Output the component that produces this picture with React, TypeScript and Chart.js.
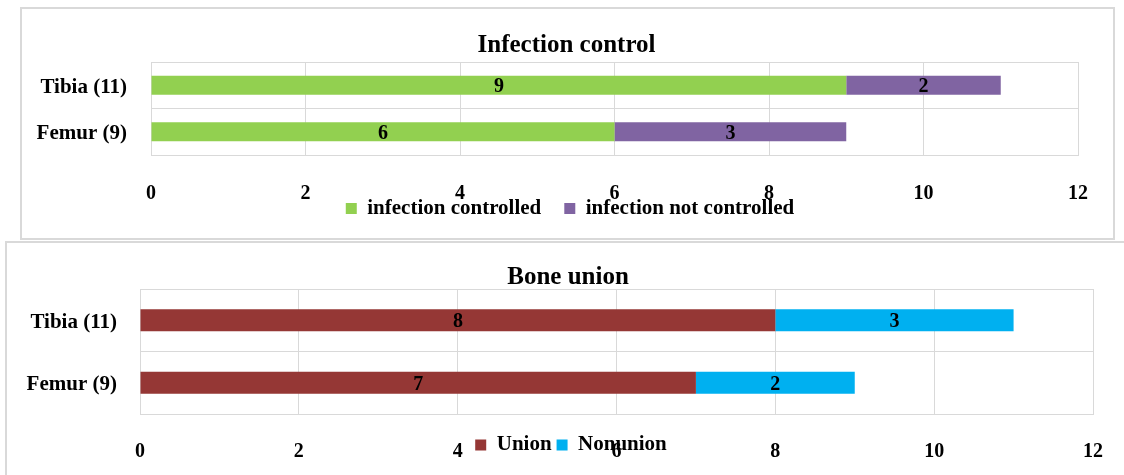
import React, { useEffect, useRef } from "react";
import { Chart, registerables } from "chart.js";

Chart.register(...registerables);

// ---- data ----
const categories = ["Tibia (11)", "Femur (9)"];
const infectionControlled = [9, 6];
const infectionNotControlled = [2, 3];
const unionValues = [8, 7];
const nonunionValues = [3, 2];
const xMin = 0;
const xMax = 12;
const xStep = 2;

const FONT = "'Liberation Serif', 'Times New Roman', serif";
const GRID = "#d9d9d9";

const valueLabels = {
  id: "valueLabels",
  afterDatasetsDraw(chart: any) {
    const ctx = chart.ctx;
    ctx.save();
    ctx.font = `bold 20px ${FONT}`;
    ctx.fillStyle = "#000";
    ctx.textAlign = "center";
    ctx.textBaseline = "middle";
    chart.data.datasets.forEach((ds: any, i: number) => {
      const meta = chart.getDatasetMeta(i);
      meta.data.forEach((el: any, j: number) => {
        const { x, y, base } = el.getProps(["x", "y", "base"], true);
        ctx.fillText(String(ds.data[j]), (x + base) / 2, y + 2);
      });
    });
    ctx.restore();
  },
};

type PanelProps = {
  title: string;
  names: [string, string];
  values: [number[], number[]];
  colors: [string, string];
  width: number;
  height: number;
  padRight: number;
  yWidth: number;
  yPad: number;
  plotBottom: number;
  xLineHeight: number;
  titleTop: number;
  titleBottom: number;
  legendPad: number;
  legendTop: number;
  legendDx: number;
  titleDx: number;
  barPct: number;
};

function Panel(p: PanelProps) {
  const ref = useRef<HTMLCanvasElement | null>(null);
  useEffect(() => {
    if (!ref.current) return;
    const placeBoxes = {
      id: "placeBoxes",
      afterLayout(chart: any) {
        const lg = chart.legend;
        if (lg) {
          lg.left += p.legendDx;
          lg.right += p.legendDx;
          const dy = p.legendTop - lg.top;
          lg.top += dy;
          lg.bottom += dy;
        }
        const t = chart.titleBlock;
        if (t) {
          t.left += p.titleDx;
          t.right += p.titleDx;
        }
      },
    };
    const chart = new Chart(ref.current, {
      type: "bar",
      data: {
        labels: categories,
        datasets: [
          {
            label: p.names[0],
            data: p.values[0],
            backgroundColor: p.colors[0],
            borderWidth: 0,
            barPercentage: p.barPct,
            categoryPercentage: 1,
          },
          {
            label: p.names[1],
            data: p.values[1],
            backgroundColor: p.colors[1],
            borderWidth: 0,
            barPercentage: p.barPct,
            categoryPercentage: 1,
          },
        ],
      },
      options: {
        indexAxis: "y",
        responsive: false,
        animation: false,
        layout: {
          padding: { left: 0, right: p.padRight, top: 0, bottom: 0 },
        },
        scales: {
          x: {
            stacked: true,
            min: xMin,
            max: xMax,
            ticks: {
              stepSize: xStep,
              color: "#000",
              padding: 0,
              font: {
                family: FONT,
                size: 20,
                weight: "bold",
                lineHeight: `${p.xLineHeight}px`,
              },
            },
            grid: { color: GRID, drawTicks: false, lineWidth: 1 },
            border: { display: true, color: GRID },
            afterFit: (s: any) => {
              const lh = s.chart.legend ? s.chart.legend.height : 0;
              s.height = Math.max(10, p.height - lh - p.plotBottom);
            },
          },
          y: {
            stacked: true,
            ticks: {
              color: "#000",
              padding: p.yPad,
              labelOffset: 2,
              font: { family: FONT, size: 21, weight: "bold" },
            },
            grid: { color: GRID, drawTicks: false, lineWidth: 1, offset: true },
            border: { display: true, color: GRID },
            afterFit: (s: any) => {
              s.width = p.yWidth;
            },
          },
        },
        plugins: {
          title: {
            display: true,
            text: p.title,
            color: "#000",
            font: { family: FONT, size: 25, weight: "bold", lineHeight: 0.9 },
            padding: { top: p.titleTop, bottom: p.titleBottom },
          },
          legend: {
            display: true,
            position: "bottom",
            labels: {
              boxWidth: 11,
              boxHeight: 11,
              padding: p.legendPad,
              color: "#000",
              font: { family: FONT, size: 21, weight: "bold" },
            },
          },
          tooltip: { enabled: false },
        },
      },
      plugins: [valueLabels, placeBoxes],
    } as any);
    return () => chart.destroy();
  }, []);
  return <canvas ref={ref} width={p.width} height={p.height} style={{ display: "block" }} />;
}

export default function App() {
  return (
    <div
      style={{
        position: "fixed",
        left: 0,
        top: 0,
        width: 1124,
        height: 475,
        background: "#fff",
        overflow: "hidden",
      }}
    >
      <div
        style={{
          position: "absolute",
          left: 20,
          top: 7,
          width: 1091,
          height: 229,
          border: `2px solid ${GRID}`,
          background: "#fff",
        }}
      />
      <div style={{ position: "absolute", left: 22, top: 9 }}>
        <Panel
          title="Infection control"
          names={["infection controlled", "infection not controlled"]}
          values={[infectionControlled, infectionNotControlled]}
          colors={["#92d050", "#8064a2"]}
          width={1091}
          height={290}
          padRight={35}
          yWidth={129}
          yPad={24}
          plotBottom={146}
          xLineHeight={77}
          titleTop={25.5}
          titleBottom={5}
          legendPad={23}
          legendTop={166}
          legendDx={20}
          titleDx={16.5}
          barPct={0.41}
        />
      </div>
      <div
        style={{
          position: "absolute",
          left: 5,
          top: 241,
          width: 1140,
          height: 260,
          border: `2px solid ${GRID}`,
          background: "#fff",
        }}
      />
      <div style={{ position: "absolute", left: 7, top: 243 }}>
        <Panel
          title="Bone union"
          names={["Union", "Nonunion"]}
          values={[unionValues, nonunionValues]}
          colors={["#953735", "#00b0f0"]}
          width={1117}
          height={290}
          padRight={31}
          yWidth={133}
          yPad={23}
          plotBottom={171}
          xLineHeight={76}
          titleTop={23.5}
          titleBottom={0}
          legendPad={5}
          legendTop={186.5}
          legendDx={21}
          titleDx={18}
          barPct={0.35}
        />
      </div>
    </div>
  );
}
